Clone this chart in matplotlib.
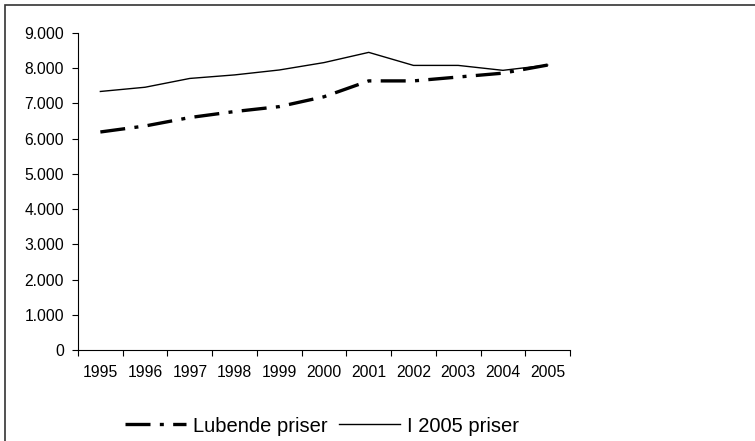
import numpy as np
import matplotlib
matplotlib.use("Agg")
import matplotlib.pyplot as plt
from matplotlib.patches import Rectangle

plt.rcParams['font.family'] = ['Liberation Sans', 'DejaVu Sans']

years = ['1995', '1996', '1997', '1998', '1999', '2000', '2001', '2002', '2003', '2004', '2005']
lobende = [6190, 6360, 6600, 6770, 6910, 7190, 7640, 7640, 7750, 7860, 8090]
i2005 = [7340, 7460, 7710, 7810, 7950, 8160, 8450, 8080, 8080, 7940, 8090]
yticks = [0, 1000, 2000, 3000, 4000, 5000, 6000, 7000, 8000, 9000]
ylabels = ['0', '1.000', '2.000', '3.000', '4.000', '5.000', '6.000', '7.000', '8.000', '9.000']

fig = plt.figure(figsize=(7.55, 4.41), dpi=100)
ax = fig.add_axes([78 / 755, 1 - 350 / 441, 492 / 755, 317 / 441])

x = np.arange(len(years)) + 0.5
ax.plot(x, lobende, color='black', lw=2.4, dashes=(7.5, 2.8, 1.2, 2.8), label='Lubende priser')
ax.plot(x, i2005, color='black', lw=1.0, label='I 2005 priser')

ax.set_xlim(0, len(years))
ax.set_ylim(0, 9000)
ax.set_yticks(yticks)
ax.set_yticklabels(ylabels)
ax.set_xticks(np.arange(len(years) + 1))
ax.set_xticklabels([])
ax.set_xticks(x, minor=True)
ax.set_xticklabels(years, minor=True)
ax.tick_params(axis='x', which='minor', length=0, pad=11, labelsize=11.3)
ax.tick_params(axis='x', which='major', length=4, width=0.8, direction='out')
ax.tick_params(axis='y', length=4, width=0.8, direction='out', labelsize=11.3, pad=6)
for s in ['top', 'right']:
    ax.spines[s].set_visible(False)
for s in ['left', 'bottom']:
    ax.spines[s].set_linewidth(0.8)

leg = fig.legend(loc='center', bbox_to_anchor=(322 / 755, 1 - 426 / 441), ncol=2,
                 frameon=False, fontsize=14.5, handlelength=3.0, handletextpad=0.35,
                 columnspacing=0.6, borderpad=0, borderaxespad=0)

fig.patches.append(Rectangle((5 / 755, -0.1), 1.1, 1 - 5 / 441 + 0.1,
                             transform=fig.transFigure, fill=False,
                             edgecolor='#333333', lw=1.2))

fig.savefig('out.png', dpi=100)
